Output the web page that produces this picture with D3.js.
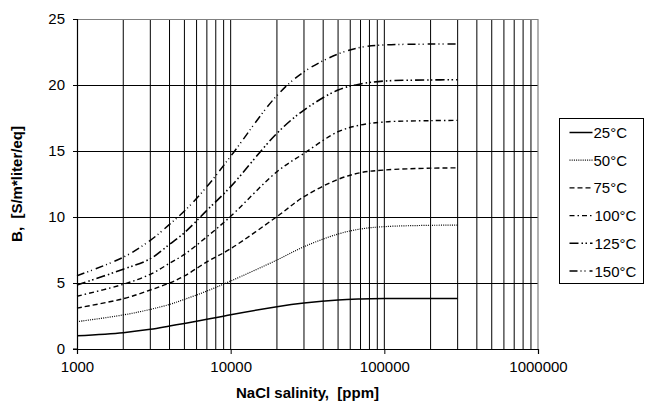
<!DOCTYPE html>
<html>
<head>
<meta charset="utf-8">
<script src="https://cdn.jsdelivr.net/npm/d3@7"></script>
<style>
  body { margin: 0; background: #fff; }
  text { font-family: Arial, "Liberation Sans", sans-serif; white-space: pre; }
</style>
</head>
<body>
<div id="chart"></div>
<script>
const salinity = [1000, 2000, 3000, 4000, 5000, 7000, 10000, 20000, 30000, 50000, 70000, 100000, 200000, 300000];
const b25  = [1.0, 1.24, 1.49, 1.74, 1.94, 2.25, 2.6, 3.2, 3.48, 3.72, 3.79, 3.82, 3.83, 3.83];
const b50  = [2.07, 2.58, 3.0, 3.38, 3.76, 4.39, 5.15, 6.74, 7.75, 8.71, 9.09, 9.27, 9.37, 9.38];
const b75  = [3.1, 3.81, 4.47, 5.0, 5.53, 6.6, 7.6, 10.03, 11.54, 12.85, 13.36, 13.56, 13.7, 13.72];
const b100 = [4.0, 4.9, 5.66, 6.49, 7.17, 8.5, 10.05, 13.43, 14.82, 16.46, 16.97, 17.2, 17.3, 17.32];
const b125 = [4.85, 6.04, 6.84, 7.93, 8.81, 10.5, 12.3, 16.34, 18.1, 19.62, 20.08, 20.3, 20.38, 20.4];
const b150 = [5.55, 6.95, 8.23, 9.44, 10.45, 12.3, 14.6, 19.2, 21.0, 22.35, 22.85, 23.03, 23.1, 23.1];
const seriesNames = ["25°C", "50°C", "75°C", "100°C", "125°C", "150°C"];
const xTicks = [1000, 10000, 100000, 1000000];
const yTicks = [0, 5, 10, 15, 20, 25];

const series = [b25, b50, b75, b100, b125, b150].map((vals, i) => ({
    name: seriesNames[i],
    values: vals.map((v, j) => ({ x: salinity[j], y: v }))
}));

// line styles, one per series
const dashes = [null, "1,1.2", "5,3", "5,3,1.5,3", "9,3,1.5,2.5,1.5,3", "8,3,1,3,1,4"];
const widths = [1.5, 1.2, 1.4, 1.4, 1.6, 1.5];

const W = 651, H = 409;
const margin = { top: 19, right: 113, bottom: 60, left: 77 };
const width = W - margin.left - margin.right;
const height = H - margin.top - margin.bottom;

const svg = d3.select("#chart").append("svg")
    .attr("width", W)
    .attr("height", H);

const g = svg.append("g")
    .attr("transform", `translate(${margin.left},${margin.top})`);

const x = d3.scaleLog().domain([1000, 1000000]).range([0, width]);
const y = d3.scaleLinear().domain([0, 25]).range([height, 0]);

// grid: every minor log step vertically, every 5 horizontally
const minor = [];
for (let d = 1000; d < 1000000; d *= 10) {
    for (let k = 1; k < 10; k++) minor.push(d * k);
}
g.selectAll(".vgrid")
    .data(minor.filter(v => v > 1000))
    .enter().append("line")
    .attr("x1", d => x(d)).attr("x2", d => x(d))
    .attr("y1", 0).attr("y2", height)
    .attr("stroke", "#000").attr("stroke-width", 1);

g.selectAll(".hgrid")
    .data(yTicks.filter(v => v > 0 && v < 25))
    .enter().append("line")
    .attr("x1", 0).attr("x2", width)
    .attr("y1", d => Math.round(y(d)) + 0.5).attr("y2", d => Math.round(y(d)) + 0.5)
    .attr("stroke", "#000").attr("stroke-width", 1);

// grey frame on top and right
g.append("path")
    .attr("d", `M0,0.5H${width}V${height}`)
    .attr("fill", "none")
    .attr("stroke", "#808080")
    .attr("stroke-width", 1.2);

// axes
const xAxis = d3.axisBottom(x).tickValues(xTicks).tickFormat(d3.format("d")).tickSize(5).tickPadding(7);
const yAxis = d3.axisLeft(y).tickValues(yTicks).tickSize(4).tickPadding(8);

const gx = g.append("g")
    .attr("transform", `translate(0,${height})`)
    .call(xAxis);
const gy = g.append("g").call(yAxis);

[gx, gy].forEach(a => {
    a.select(".domain").attr("stroke", "#000").attr("stroke-width", 1.2);
    a.selectAll(".tick line").attr("stroke", "#000");
    a.selectAll(".tick text")
        .attr("fill", "#000")
        .style("font-size", "15px")
        .style("font-family", "Arial, 'Liberation Sans', sans-serif");
});
gy.select(".domain").attr("d", `M-4,0.5H0.5V${height}H-4`);

// curves
const line = d3.line()
    .x(d => x(d.x))
    .y(d => y(d.y))
    .curve(d3.curveCatmullRom.alpha(0.5));

g.selectAll(".series")
    .data(series)
    .enter().append("path")
    .attr("class", "series")
    .attr("d", d => line(d.values))
    .attr("fill", "none")
    .attr("stroke", "#000")
    .attr("stroke-width", (d, i) => widths[i])
    .attr("stroke-dasharray", (d, i) => dashes[i]);

// axis titles
svg.append("text")
    .attr("x", margin.left + width / 2)
    .attr("y", 398)
    .attr("text-anchor", "middle")
    .style("font-size", "15px")
    .style("font-weight", "bold")
    .text("NaCl salinity,  [ppm]");

svg.append("text")
    .attr("transform", `translate(22,${margin.top + height / 2}) rotate(-90)`)
    .attr("text-anchor", "middle")
    .style("font-size", "15px")
    .style("font-weight", "bold")
    .text("B,  [S/m*liter/eq]");

// legend
const legend = svg.append("g").attr("transform", "translate(559.5,118.5)");
legend.append("rect")
    .attr("width", 84).attr("height", 165)
    .attr("fill", "#fff")
    .attr("stroke", "#000")
    .attr("stroke-width", 1);

const item = legend.selectAll(".item")
    .data(series)
    .enter().append("g")
    .attr("transform", (d, i) => `translate(0,${14 + i * 27.7})`);

item.append("line")
    .attr("x1", 10).attr("x2", 33)
    .attr("y1", 0).attr("y2", 0)
    .attr("stroke", "#000")
    .attr("stroke-width", (d, i) => widths[i])
    .attr("stroke-dasharray", (d, i) => dashes[i]);

item.append("text")
    .attr("x", (d, i) => i >= 3 ? 35 : 34)
    .attr("y", 5.5)
    .style("font-size", "15px")
    .text(d => d.name);
</script>
</body>
</html>
